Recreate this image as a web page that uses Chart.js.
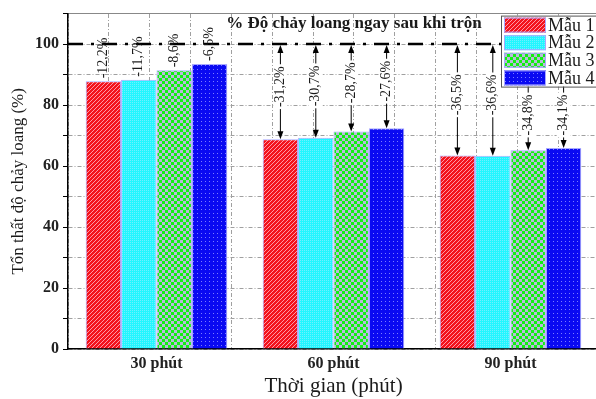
<!DOCTYPE html>
<html>
<head>
<meta charset="utf-8">
<script src="https://cdn.jsdelivr.net/npm/chart.js@4.4.1/dist/chart.umd.min.js"></script>
<style>
html, body { margin: 0; padding: 0; background: #fff; overflow: hidden; }
#wrap { position: absolute; left: 0; top: 0; width: 600px; height: 399px; }
</style>
</head>
<body>
<div id="wrap"><canvas id="lossChart"></canvas></div>
<script>
const timeLabels = ["30 phút", "60 phút", "90 phút"];
const sampleNames = ["Mẫu 1", "Mẫu 2", "Mẫu 3", "Mẫu 4"];

// chiều cao cột (%)
const mau1 = [87.8, 68.8, 63.5];
const mau2 = [88.3, 69.3, 63.4];
const mau3 = [91.4, 71.3, 65.2];
const mau4 = [93.5, 72.4, 65.9];

// nhãn tổn thất trên mỗi cột
const lossMau1 = ["-12,2%", "-31,2%", "-36,5%"];
const lossMau2 = ["-11,7%", "-30,7%", "-36,6%"];
const lossMau3 = ["-8,6%", "-28,7%", "-34,8%"];
const lossMau4 = ["-6,5%", "-27,6%", "-34,1%"];

const yTickLabels = [0, 20, 40, 60, 80, 100];
const refValue = 100;
const refLineText = "% Độ chảy loang ngay sau khi trộn";

const lossLabels = [lossMau1, lossMau2, lossMau3, lossMau4];
const serif = "'Liberation Serif', 'DejaVu Serif', serif";

function makePattern(kind) {
  const c = document.createElement("canvas");
  const g = c.getContext("2d");
  if (kind === "hatch") {
    c.width = 4; c.height = 4;
    g.fillStyle = "#f3121c"; g.fillRect(0, 0, 4, 4);
    g.fillStyle = "rgba(255,175,190,0.85)";
    for (let i = 0; i < 4; i++) g.fillRect(3 - i, i, 1, 1);
  } else if (kind === "cyan") {
    c.width = 2; c.height = 2;
    g.fillStyle = "#22f6ff"; g.fillRect(0, 0, 2, 2);
    g.fillStyle = "#6ef0ff"; g.fillRect(0, 0, 1, 1);
  } else if (kind === "checker") {
    c.width = 6; c.height = 6;
    g.fillStyle = "#12f012"; g.fillRect(0, 0, 6, 6);
    g.fillStyle = "#b9b9dc"; g.fillRect(0, 0, 3, 3); g.fillRect(3, 3, 3, 3);
  } else {
    c.width = 4; c.height = 4;
    g.fillStyle = "#0a0af2"; g.fillRect(0, 0, 4, 4);
    g.fillStyle = "#7c7cff"; g.fillRect(1, 1, 1, 1);
  }
  return g.createPattern(c, "repeat");
}

const fills = [makePattern("hatch"), makePattern("cyan"), makePattern("checker"), makePattern("dots")];

function legendBox(chart) {
  const a = chart.chartArea;
  return { left: a.right - 98, top: a.top + 2, width: 100, height: 71 };
}

const marksPlugin = {
  id: "marks",
  afterDatasetsDraw(chart) {
    const { ctx, chartArea, scales } = chart;
    const y100 = scales.y.getPixelForValue(refValue);
    const lg = legendBox(chart);
    ctx.save();
    // đường 100%
    ctx.strokeStyle = "#000";
    ctx.lineWidth = 2.5;
    ctx.setLineDash([15, 8, 3, 8]);
    ctx.beginPath();
    ctx.moveTo(chartArea.left, y100);
    ctx.lineTo(chartArea.right, y100);
    ctx.stroke();
    ctx.setLineDash([]);

    ctx.fillStyle = "#1a1a1a";
    ctx.font = "bold 17px " + serif;
    ctx.textAlign = "center";
    ctx.textBaseline = "middle";
    ctx.fillText(refLineText, scales.x2.getPixelForValue(6.5), scales.y.getPixelForValue(106.6));

    ctx.font = "14px " + serif;
    ctx.lineWidth = 1;
    chart.data.datasets.forEach((ds, di) => {
      chart.getDatasetMeta(di).data.forEach((bar, i) => {
        const txt = lossLabels[di][i];
        const x = bar.x, top = bar.y;
        const w = ctx.measureText(txt).width;
        ctx.save();
        if (top - y100 < 60) {
          ctx.translate(x, top - 3);
          ctx.rotate(-Math.PI / 2);
          ctx.textAlign = "left";
          ctx.fillText(txt, 0, 0);
        } else {
          ctx.strokeStyle = "#000";
          ctx.fillStyle = "#000";
          ctx.beginPath();
          ctx.moveTo(x, y100 + 6);
          ctx.lineTo(x, top - 6);
          ctx.stroke();
          ctx.beginPath();
          ctx.moveTo(x, y100 + 1); ctx.lineTo(x - 3, y100 + 9); ctx.lineTo(x + 3, y100 + 9);
          ctx.closePath(); ctx.fill();
          ctx.beginPath();
          ctx.moveTo(x, top); ctx.lineTo(x - 3, top - 8); ctx.lineTo(x + 3, top - 8);
          ctx.closePath(); ctx.fill();
          let cy = (y100 + top) / 2 - 5;
          if (x > lg.left) cy = Math.max(cy, lg.top + lg.height + w / 2 + 8);
          ctx.fillStyle = "#fff";
          ctx.fillRect(x - 7, cy - w / 2 - 2, 14, w + 4);
          ctx.fillStyle = "#1a1a1a";
          ctx.translate(x, cy);
          ctx.rotate(-Math.PI / 2);
          ctx.textAlign = "center";
          ctx.fillText(txt, 0, 0);
        }
        ctx.restore();
      });
    });
    ctx.restore();
  },
  afterDraw(chart) {
    const { ctx } = chart;
    const lg = legendBox(chart);
    ctx.save();
    ctx.fillStyle = "#fff";
    ctx.fillRect(lg.left, lg.top, lg.width, lg.height);
    ctx.strokeStyle = "#555";
    ctx.lineWidth = 1;
    ctx.strokeRect(lg.left + 0.5, lg.top + 0.5, lg.width, lg.height);
    ctx.font = "18px " + serif;
    ctx.textBaseline = "middle";
    ctx.textAlign = "left";
    chart.data.datasets.forEach((ds, di) => {
      const ry = lg.top + 2 + di * 17.6;
      ctx.fillStyle = ds.backgroundColor;
      ctx.fillRect(lg.left + 3, ry, 42, 15);
      ctx.strokeStyle = "#a8a8ff";
      ctx.strokeRect(lg.left + 3.5, ry + 0.5, 41, 14);
      ctx.fillStyle = "#1a1a1a";
      ctx.fillText(ds.label, lg.left + 47, ry + 8.5);
    });
    ctx.restore();
  }
};

const datasetValues = [mau1, mau2, mau3, mau4];

new Chart(document.getElementById("lossChart"), {
  type: "bar",
  data: {
    labels: timeLabels,
    datasets: datasetValues.map((vals, i) => ({
      label: sampleNames[i],
      data: vals,
      backgroundColor: fills[i],
      borderColor: "#a8a8ff",
      borderWidth: 1,
      categoryPercentage: 0.8,
      barPercentage: 1.0,
      xAxisID: "x",
      yAxisID: "y",
    })),
  },
  options: {
    responsive: true,
    maintainAspectRatio: false,
    animation: false,
    layout: { padding: { top: 11, left: 0, right: 1, bottom: 0 } },
    plugins: { legend: { display: false }, tooltip: { enabled: false } },
    scales: {
      x: {
        offset: true,
        grid: { display: false, drawTicks: false, tickLength: 0 },
        border: { color: "#000", width: 1.5 },
        ticks: { font: { family: serif, size: 16, weight: "bold" }, color: "#222", padding: 5 },
        title: { display: true, text: "Thời gian (phút)", font: { family: serif, size: 21 }, color: "#1a1a1a", padding: 0 },
        afterFit(s) { s.height = 50; },
      },
      x2: {
        type: "linear",
        position: "top",
        min: 0,
        max: 12,
        ticks: { display: false, stepSize: 1 },
        grid: { color: "#a0a0a0", drawTicks: false },
        border: { color: "#888", width: 1, dash: [4, 2, 1, 2] },
        afterFit(s) { s.height = 0; },
      },
      y: {
        min: 0,
        max: 110,
        ticks: {
          stepSize: 10,
          autoSkip: false,
          callback: (v) => (yTickLabels.includes(v) ? v : ""),
          font: { family: serif, size: 16, weight: "bold" },
          color: "#222",
          padding: 4,
        },
        grid: { color: "#a0a0a0", tickLength: 5, tickColor: "#000" },
        border: { color: "#000", width: 1.5, dash: [4, 2, 1, 2] },
        title: { display: true, text: "Tổn thất độ chảy loang (%)", font: { family: serif, size: 17 }, color: "#1a1a1a", padding: 8 },
        afterFit(s) { s.width = 68; },
      },
    },
  },
  plugins: [marksPlugin],
});
</script>
</body>
</html>
